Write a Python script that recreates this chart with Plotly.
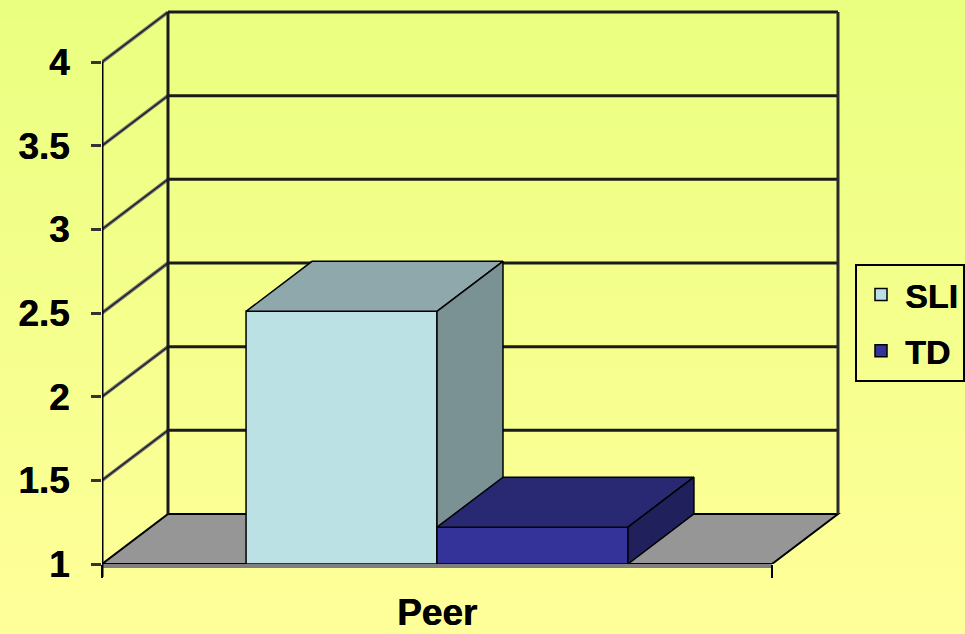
import plotly.graph_objects as go

# ---- data -------------------------------------------------------------
categories = ["Peer"]
series_names = ["SLI", "TD"]
sli_values = [2.51]
td_values = [1.22]
y_tick_values = [1, 1.5, 2, 2.5, 3, 3.5, 4]
y_tick_labels = ["1", "1.5", "2", "2.5", "3", "3.5", "4"]

# ---- styling ----------------------------------------------------------
face_colors = {
    "SLI": {"front": "#BCE1E4", "top": "#8FA8AB", "side": "#7A9293"},
    "TD": {"front": "#333399", "top": "#282873", "side": "#20205C"},
}
bg_top = (234, 255, 128)
bg_bottom = (255, 255, 153)
FONT = dict(family="Liberation Sans, Arial, sans-serif", size=37, color="black",
            weight="bold", shadow="0.6px 0 0 black")
LEGEND_FONT = dict(FONT, size=34)

# pseudo-3D frame: the floor sits at the lowest tick, walls reach the highest
y_floor, y_top = y_tick_values[0], y_tick_values[-1]
depth_x = 0.0985           # horizontal shift of the back wall (category units)
depth_y = 0.299            # vertical shift of the back wall (value units)
bar_width = 0.285          # width of one bar inside the unit category slot
x_range = [0, 1 + depth_x + 0.006]
y_range = [y_floor, y_top + depth_y + 0.024]

W, H = 965, 634
margin = dict(l=102, r=123, t=8, b=70, autoexpand=False)
plot_h = H - margin["t"] - margin["b"]
plot_w = W - margin["l"] - margin["r"]


def poly(pts):
    xs = [p[0] for p in pts] + [pts[0][0]]
    ys = [p[1] for p in pts] + [pts[0][1]]
    return xs, ys


fig = go.Figure()

# ---- background gradient (paper) --------------------------------------
shapes = []
n_bands = 60
for i in range(n_bands):
    t = i / (n_bands - 1)
    c = tuple(round(bg_top[k] + (bg_bottom[k] - bg_top[k]) * t) for k in range(3))
    y1 = 1 + margin["t"] / plot_h - i * (H / plot_h) / n_bands
    y0 = y1 - (H / plot_h) / n_bands - 0.002
    shapes.append(dict(type="rect", xref="paper", yref="paper",
                       x0=-margin["l"] / plot_w, x1=1 + margin["r"] / plot_w,
                       y0=y0, y1=y1 + 0.002, fillcolor="rgb(%d,%d,%d)" % c,
                       line=dict(width=0), layer="below"))

# ---- floor ------------------------------------------------------------
floor_path = "M {} {} L {} {} L {} {} L {} {} Z".format(
    0, y_floor, 1, y_floor, 1 + depth_x, y_floor + depth_y, depth_x, y_floor + depth_y)
shapes.append(dict(type="path", xref="x", yref="y", path=floor_path,
                   fillcolor="#969696", line=dict(color="black", width=2), layer="below"))
# floor thickness along the front edge
shapes.append(dict(type="rect", xref="x", yref="paper", x0=0, x1=1,
                   y0=-4 / plot_h, y1=0, fillcolor="#7F7F7F",
                   line=dict(width=0), layer="below"))

# ---- side wall diagonals and back wall gridlines ----------------------
for v in y_tick_values[1:]:
    shapes.append(dict(type="line", xref="x", yref="y", x0=0, y0=v,
                       x1=depth_x, y1=v + depth_y,
                       line=dict(color="#707070", width=3.5), layer="below"))
    shapes.append(dict(type="line", xref="x", yref="y", x0=0, y0=v,
                       x1=depth_x, y1=v + depth_y,
                       line=dict(color="#1A1A1A", width=1.2), layer="below"))
    shapes.append(dict(type="line", xref="x", yref="y", x0=depth_x, y0=v + depth_y,
                       x1=1 + depth_x, y1=v + depth_y,
                       line=dict(color="#1A1A1A", width=3), layer="below"))

# back wall vertical edges
for xe, col in ((depth_x, "#1A1A1A"), (1 + depth_x, "#2A2A2A")):
    shapes.append(dict(type="line", xref="x", yref="y", x0=xe, y0=y_floor + depth_y,
                       x1=xe, y1=y_top + depth_y,
                       line=dict(color=col, width=3), layer="below"))

# front value axis line
shapes.append(dict(type="line", xref="x", yref="y", x0=0, y0=y_floor, x1=0, y1=y_top,
                   line=dict(color="black", width=3), layer="below"))
shapes.append(dict(type="line", xref="x", yref="paper", x0=0, y0=-13 / plot_h, x1=0, y1=0,
                   line=dict(color="black", width=3), layer="below"))

# ---- bars -------------------------------------------------------------
series = [("SLI", sli_values, -bar_width, "x", "y"),
          ("TD", td_values, 0.0, "x2", "y2")]

for idx, (name, vals, offset, xa, ya) in enumerate(series):
    cols = face_colors[name]
    centre = 0.5
    for v in vals:
        x0 = centre + offset
        x1 = x0 + bar_width
        # front face
        fig.add_trace(go.Bar(
            x=[centre], y=[v - y_floor], base=[y_floor], width=[bar_width],
            offset=[offset], name=name, legendgroup=name,
            marker=dict(color=cols["front"], line=dict(color="black", width=1.5)),
            xaxis=xa, yaxis=ya, showlegend=True, hoverinfo="skip"))
        # top face
        tx, ty = poly([(x0, v), (x1, v), (x1 + depth_x, v + depth_y), (x0 + depth_x, v + depth_y)])
        fig.add_trace(go.Scatter(x=tx, y=ty, fill="toself", fillcolor=cols["top"],
                                 mode="lines", line=dict(color="black", width=1.5),
                                 xaxis=xa, yaxis=ya, showlegend=False, hoverinfo="skip"))
        # side face
        sx, sy = poly([(x1, y_floor), (x1, v), (x1 + depth_x, v + depth_y),
                       (x1 + depth_x, y_floor + depth_y)])
        fig.add_trace(go.Scatter(x=sx, y=sy, fill="toself", fillcolor=cols["side"],
                                 mode="lines", line=dict(color="black", width=1.5),
                                 xaxis=xa, yaxis=ya, showlegend=False, hoverinfo="skip"))

fig.update_layout(
    width=W, height=H, margin=margin,
    paper_bgcolor="rgb(255,255,153)", plot_bgcolor="rgba(0,0,0,0)",
    shapes=shapes,
    showlegend=True,
    legend=dict(x=(855 - margin["l"]) / plot_w, xanchor="left",
                y=(H - margin["b"] - 264) / plot_h, yanchor="top",
                bordercolor="black", borderwidth=2, bgcolor="rgba(0,0,0,0)",
                font=LEGEND_FONT, tracegroupgap=9, traceorder="grouped", itemwidth=38),
    xaxis=dict(range=x_range, showgrid=False, zeroline=False, showline=False,
               automargin=False,
               tickmode="array", tickvals=[0.5], ticktext=categories, ticks="",
               tickfont=FONT, ticklabelstandoff=23,
               minor=dict(tickmode="array", tickvals=[0, 1], ticks="outside",
                          ticklen=13, tickwidth=2, tickcolor="black", showgrid=False)),
    yaxis=dict(range=y_range, showgrid=False, zeroline=False, showline=False,
               automargin=False,
               tickmode="array", tickvals=y_tick_values, ticktext=y_tick_labels,
               ticks="outside", ticklen=10, tickwidth=3, tickcolor="#333333",
               tickfont=FONT, ticklabelstandoff=14),
    xaxis2=dict(range=x_range, overlaying="x", visible=False),
    yaxis2=dict(range=y_range, overlaying="y", visible=False),
    barmode="overlay",
)

fig.write_html("out.html")
